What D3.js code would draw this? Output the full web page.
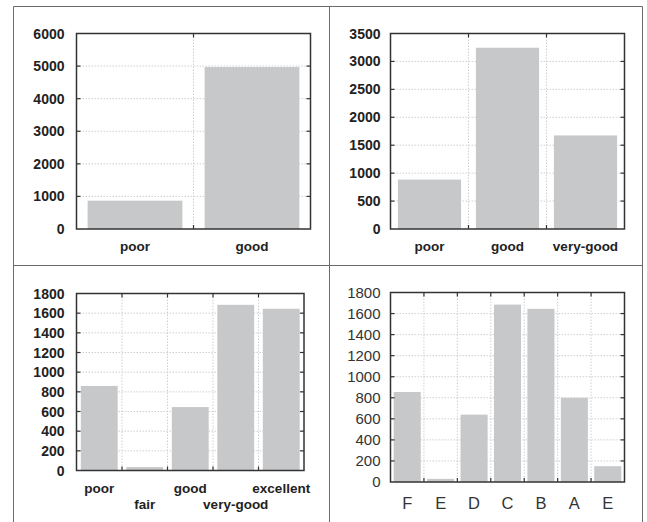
<!DOCTYPE html>
<html>
<head>
<meta charset="utf-8">
<script src="https://cdn.jsdelivr.net/npm/d3@7"></script>
<style>
  body { margin: 0; background: #fff; }
  svg { display: block; }
  .frame { stroke: #6b6b6b; stroke-width: 1; fill: none; }
  .grid { stroke: #c4c4c4; stroke-width: 0.8; stroke-dasharray: 1.5,1.5; }
  .box { stroke: #333; stroke-width: 1.5; fill: none; }
  .tick { stroke: #333; stroke-width: 1.2; }
</style>
</head>
<body>
<div class="graph"></div>
<script>
var cats1 = ['poor', 'good'],
    vals1 = [870, 4970],
    ticks1 = [0, 1000, 2000, 3000, 4000, 5000, 6000];

var cats2 = ['poor', 'good', 'very-good'],
    vals2 = [885, 3245, 1675],
    ticks2 = [0, 500, 1000, 1500, 2000, 2500, 3000, 3500];

var cats3 = ['poor', 'fair', 'good', 'very-good', 'excellent'],
    vals3 = [860, 35, 645, 1685, 1645],
    ticks3 = [0, 200, 400, 600, 800, 1000, 1200, 1400, 1600, 1800];

var cats4 = ['F', 'E', 'D', 'C', 'B', 'A', 'E'],
    vals4 = [855, 30, 640, 1685, 1645, 800, 150],
    ticks4 = [0, 200, 400, 600, 800, 1000, 1200, 1400, 1600, 1800];

var width = 647, height = 522;

var svg = d3.select('.graph').append('svg')
    .attr('width', width)
    .attr('height', height);

// outer table frame
svg.append('path').attr('class', 'frame')
  .attr('d', 'M13.5,' + height + 'V6.5H642.5V' + height +
             'M329.5,6.5V' + height + 'M13.5,265.5H642.5');

function drawPanel(opt) {
  var g = svg.append('g');
  var x = d3.scaleBand()
      .domain(d3.range(opt.cats.length))
      .range([opt.x0, opt.x1])
      .paddingInner(0.19)
      .paddingOuter(0.095);
  var y = d3.scaleLinear()
      .domain([0, d3.max(opt.ticks)])
      .range([opt.y1, opt.y0]);
  var step = x.step();
  var bounds = d3.range(1, opt.cats.length).map(function (i) { return opt.x0 + i * step; });

  // dotted grid
  g.selectAll('.hg').data(opt.ticks.slice(1, -1)).enter().append('line')
    .attr('class', 'grid')
    .attr('x1', opt.x0).attr('x2', opt.x1)
    .attr('y1', function (d) { return y(d); }).attr('y2', function (d) { return y(d); });
  g.selectAll('.vg').data(bounds).enter().append('line')
    .attr('class', 'grid')
    .attr('x1', function (d) { return d; }).attr('x2', function (d) { return d; })
    .attr('y1', opt.y0).attr('y2', opt.y1);

  // bars
  g.selectAll('rect').data(opt.vals).enter().append('rect')
    .attr('x', function (d, i) { return x(i); })
    .attr('width', x.bandwidth())
    .attr('y', function (d) { return y(d); })
    .attr('height', function (d) { return opt.y1 - y(d); })
    .attr('fill', '#c7c8c9');

  // inward ticks on all four sides
  var t = 4;
  opt.ticks.slice(1, -1).forEach(function (v) {
    g.append('line').attr('class', 'tick')
      .attr('x1', opt.x0).attr('x2', opt.x0 + t).attr('y1', y(v)).attr('y2', y(v));
    g.append('line').attr('class', 'tick')
      .attr('x1', opt.x1).attr('x2', opt.x1 - t).attr('y1', y(v)).attr('y2', y(v));
  });
  bounds.forEach(function (b) {
    g.append('line').attr('class', 'tick')
      .attr('x1', b).attr('x2', b).attr('y1', opt.y1).attr('y2', opt.y1 - t);
    g.append('line').attr('class', 'tick')
      .attr('x1', b).attr('x2', b).attr('y1', opt.y0).attr('y2', opt.y0 + t);
  });

  g.append('rect').attr('class', 'box')
    .attr('x', opt.x0).attr('y', opt.y0)
    .attr('width', opt.x1 - opt.x0).attr('height', opt.y1 - opt.y0);

  // y tick labels
  g.selectAll('.yl').data(opt.ticks).enter().append('text')
    .attr('x', opt.x0 - opt.labelGap)
    .attr('y', function (d) { return y(d); })
    .attr('dy', '0.36em')
    .attr('text-anchor', 'end')
    .style('font-family', 'Liberation Sans, Arial, sans-serif')
    .style('font-size', opt.yFont + 'px')
    .style('font-weight', opt.weight)
    .style('fill', opt.color)
    .text(function (d) { return d; });

  // x category labels
  g.selectAll('.xl').data(opt.cats).enter().append('text')
    .attr('x', function (d, i) { return x(i) + x.bandwidth() / 2; })
    .attr('y', function (d, i) { return opt.stagger && i % 2 ? opt.xBase2 : opt.xBase; })
    .attr('text-anchor', 'middle')
    .style('font-family', 'Liberation Sans, Arial, sans-serif')
    .style('font-size', opt.xFont + 'px')
    .style('font-weight', opt.weight)
    .style('fill', opt.color)
    .text(function (d) { return d; });
}

drawPanel({ cats: cats1, vals: vals1, ticks: ticks1,
  x0: 76.5, x1: 310.5, y0: 33.5, y1: 229,
  labelGap: 12, yFont: 14, xFont: 13.5, weight: 'bold', color: '#222', xBase: 250.5 });

drawPanel({ cats: cats2, vals: vals2, ticks: ticks2,
  x0: 390.5, x1: 624.5, y0: 33.5, y1: 229,
  labelGap: 10, yFont: 14, xFont: 13.5, weight: 'bold', color: '#222', xBase: 250.5 });

drawPanel({ cats: cats3, vals: vals3, ticks: ticks3,
  x0: 76.5, x1: 304, y0: 293.5, y1: 470.5,
  labelGap: 12, yFont: 14, xFont: 13.5, weight: 'bold', color: '#222',
  stagger: true, xBase: 493, xBase2: 509 });

drawPanel({ cats: cats4, vals: vals4, ticks: ticks4,
  x0: 390.5, x1: 624.5, y0: 292.5, y1: 482,
  labelGap: 10, yFont: 15, xFont: 16.5, weight: 'normal', color: '#333', xBase: 509 });
</script>
</body>
</html>
